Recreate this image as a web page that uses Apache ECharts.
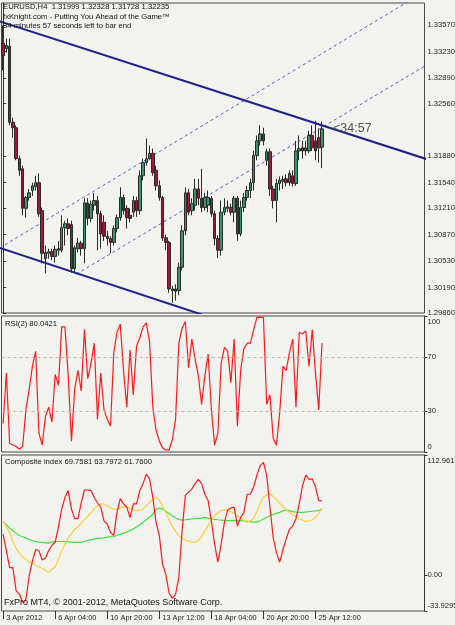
<!DOCTYPE html>
<html><head><meta charset="utf-8">
<script src="https://cdn.jsdelivr.net/npm/echarts@6/dist/echarts.min.js"></script>
<style>html,body{margin:0;padding:0;background:#f2f3ef;}#c{width:455px;height:625px;}</style>
</head><body><div id="c"></div>
<script>
// ---- data ----
const opens  = [1.3334,1.3327,1.3330,1.3232,1.3225,1.3185,1.3172,1.3121,1.3135,1.3144,1.3149,1.3154,1.3118,1.3056,1.3063,1.3065,1.3059,1.3067,1.3067,1.3096,1.3101,1.3100,1.3043,1.3069,1.3076,1.3069,1.3128,1.3108,1.3125,1.3131,1.3114,1.3103,1.3085,1.3082,1.3077,1.3095,1.3109,1.3135,1.3121,1.3112,1.3116,1.3131,1.3118,1.3163,1.3180,1.3185,1.3192,1.3170,1.3150,1.3135,1.3083,1.3077,1.3015,1.3017,1.3015,1.3045,1.3092,1.3141,1.3118,1.3125,1.3146,1.3134,1.3122,1.3125,1.3134,1.3114,1.3082,1.3067,1.3116,1.3121,1.3122,1.3116,1.3134,1.3088,1.3122,1.3135,1.3144,1.3154,1.3189,1.3208,1.3217,1.3183,1.3194,1.3146,1.3131,1.3153,1.3156,1.3159,1.3154,1.3163,1.3153,1.3195,1.3199,1.3195,1.3195,1.3215,1.3208,1.3212,1.31999];
const closes = [1.3318,1.3331,1.3232,1.3225,1.3185,1.3170,1.3121,1.3135,1.3141,1.3150,1.3154,1.3114,1.3063,1.3064,1.3065,1.3059,1.3068,1.3069,1.3096,1.3101,1.3095,1.3043,1.3070,1.3076,1.3069,1.3128,1.3108,1.3126,1.3131,1.3114,1.3088,1.3085,1.3082,1.3077,1.3095,1.3109,1.3135,1.3118,1.3109,1.3108,1.3131,1.3118,1.3163,1.3180,1.3185,1.3192,1.3167,1.3150,1.3135,1.3083,1.3077,1.3017,1.3017,1.3014,1.3045,1.3092,1.3141,1.3116,1.3127,1.3146,1.3134,1.3122,1.3135,1.3135,1.3114,1.3082,1.3067,1.3116,1.3122,1.3123,1.3116,1.3134,1.3088,1.3122,1.3135,1.3144,1.3154,1.3189,1.3208,1.3217,1.3208,1.3194,1.3146,1.3131,1.3153,1.3157,1.3158,1.3154,1.3166,1.3153,1.3195,1.3198,1.3195,1.3199,1.3215,1.3199,1.3195,1.3199,1.32235];
const highs  = [1.3357,1.3340,1.3340,1.3238,1.3228,1.3189,1.3176,1.3137,1.3146,1.3154,1.3163,1.3166,1.3122,1.3073,1.3069,1.3069,1.3073,1.3079,1.3112,1.3105,1.3108,1.3105,1.3073,1.3083,1.3079,1.3134,1.3134,1.3131,1.3141,1.3137,1.3118,1.3112,1.3092,1.3085,1.3099,1.3113,1.3148,1.3139,1.3125,1.3121,1.3137,1.3136,1.3170,1.3185,1.3211,1.3202,1.3198,1.3176,1.3157,1.3137,1.3087,1.3079,1.3021,1.3023,1.3051,1.3099,1.3148,1.3146,1.3134,1.3159,1.3159,1.3172,1.3141,1.3144,1.3137,1.3118,1.3086,1.3131,1.3134,1.3131,1.3127,1.3137,1.3137,1.3131,1.3141,1.3150,1.3159,1.3195,1.3215,1.3228,1.3225,1.3198,1.3198,1.3150,1.3159,1.3162,1.3163,1.3165,1.3170,1.3170,1.3208,1.3215,1.3208,1.3208,1.3221,1.3228,1.3234,1.3224,1.32328];
const lows   = [1.3299,1.3322,1.3228,1.3212,1.3183,1.3163,1.3112,1.3109,1.3131,1.3137,1.3144,1.3110,1.3050,1.3037,1.3056,1.3054,1.3051,1.3060,1.3064,1.3073,1.3086,1.3038,1.3038,1.3064,1.3060,1.3050,1.3099,1.3103,1.3118,1.3067,1.3069,1.3079,1.3073,1.3063,1.3073,1.3090,1.3105,1.3113,1.3095,1.3103,1.3110,1.3110,1.3113,1.3157,1.3176,1.3183,1.3163,1.3144,1.3131,1.3079,1.3067,1.3012,1.2999,1.3002,1.3009,1.3041,1.3086,1.3112,1.3112,1.3118,1.3125,1.3116,1.3118,1.3116,1.3110,1.3073,1.3057,1.3060,1.3112,1.3116,1.3112,1.3103,1.3079,1.3085,1.3116,1.3131,1.3134,1.3144,1.3183,1.3202,1.3202,1.3176,1.3137,1.3121,1.3103,1.3144,1.3146,1.3149,1.3150,1.3149,1.3150,1.3183,1.3185,1.3189,1.3192,1.3195,1.3183,1.3180,1.31728];
const rsi = [21,58,6.4,5.2,4,2,4,31,46,63,74,14,5,26,33,22,57,49,92,92,56,8,46,60,45,90,54,65,80,24,58,31,24,19,73,88,94,60,33,75,42,78,84,92,95,81,33,16,8,3,1.5,1.5,9,24,80,91,96,62,83,68,56,35,56,72,31,5,14,65,77,74,51,83,19,60,76,80,80,90,99,99,99,35,42,10,5,29,63,60,73,83,33,88,87,89,63,90,58,31,80.0421];
const compositeMain = [38.5,22.7,6.9,6.9,-15,-18,-26,-23,-1,13,24,23,14,16,23,28,31,45,62,73,79.5,62,53,53,68,80,80,79.5,73,68,64,51,48,40,37,59,72,67,64,54,67,67,79.5,86,95,90.5,73,49.5,37,10,0.6,-17,-22,-18,-2.5,41.6,75,78,81,86,90,86,76,70,51,29,12,29,49.5,61,63,64,46,54,59,76,76,83,94,103,106,94,64,35,21,12,24,34,43,46,53,67,84,94,90,90.5,83,70,69.7581];
const compositeFast = [51,45,40,31.5,25,20.5,17,14.5,12.3,10.7,9.1,7.6,6.3,4.4,2.5,5.4,7.6,14.8,22.7,29,34.7,39,43,45.4,48.6,52.4,55.5,58.7,62,65.3,66.9,66.9,65,63.4,61.8,61.8,63,64,64.4,62.8,60.6,60.9,61.2,62,65,68.5,71.3,73.2,70.7,64.4,58.7,51.7,46,41,37,34.4,32.8,31.9,30.9,30.6,32.5,36,41.6,46.7,51.7,55.5,58.7,60.6,61.2,60.9,59.6,58,55.5,53.6,51,49.5,51,53.3,60,67.5,73.2,75.4,76.3,73.8,70.7,67.5,64.4,61.2,59,56.8,54.9,53,51.7,50.5,50.8,52,54.3,58,63.7972];
const compositeSlow = [50.2,47.3,44.2,41.6,39.4,37.2,36,34.7,33.4,32.2,31.5,30.9,30.6,30.3,30,30.9,31.5,31.5,31.5,31.5,31.2,30.9,30.6,30.6,30.9,31.5,32.5,33.1,33.8,34.4,34.7,35,35.6,36,36,37.2,38.2,39.4,40.4,42,43.2,45.1,47.3,49.5,52,54.6,57.1,61.8,63,62,60,57.7,55.5,53.6,52.4,51.7,52,52.4,52.7,53,53.3,53.6,54.3,53.6,53,52.4,52,51.7,51.4,51.1,51.1,51.1,51.1,51.1,50.8,50.5,50.2,49.8,49.8,51.1,52.7,54.3,55.8,57.1,58,59,60.3,61.2,60.6,59.6,59.3,59,59,59.3,59.6,60,60.3,60.9,61.76];

const priceTicks = [1.29860,1.30190,1.30530,1.30870,1.31210,1.31540,1.31880,1.32560,1.32890,1.33230,1.33570];
const priceMin = 1.29860, priceMax = 1.33858;
const rsiTicks = [0,30,70,100];
const rsiLevels = [70,30];
const compTicks = [-33.9295,0,112.9613];
const compTickLabels = ['-33.9295','0.00','112.9613'];
const timeTickBars = [0,16,32,48,64,80,96];
const timeTickLabels = ['3 Apr 2012','6 Apr 04:00','10 Apr 20:00','13 Apr 12:00','18 Apr 04:00','20 Apr 20:00','25 Apr 12:00'];
const totalSlots = 130;
const lastPrice = 1.32235;
const lastBar = 98;
// trend lines: [barIndex, price] endpoints
const upperTrend = [[-1,1.33620],[130,1.31847]];
const lowerTrend = [[-1,1.30699],[130,1.28886]];
const channelA   = [[-1,1.30701],[130,1.34016]];
const channelB   = [[22.5,1.30362],[130,1.33055]];

const titleLines = ['EURUSD,H4  1.31999 1.32328 1.31728 1.32235','fxKnight.com - Putting You Ahead of the Game\u2122','34 minutes 57 seconds left to bar end'];

// ---- chart ----
const FONT = "'Liberation Sans',Arial,sans-serif";
const slots = Array.from({length: totalSlots}, (_, i) => String(i));
const candleData = opens.map((o, i) => [o, closes[i], lows[i], highs[i]]);
const chart = echarts.init(document.getElementById('c'), null, {renderer: 'canvas'});
const GL = 1.5, GR = 30.5;
const grids = [
  {left: GL, right: GR, top: 3, height: 310},
  {left: GL, right: GR, top: 316, height: 136},
  {left: GL, right: GR, top: 455, height: 156}
].map(g => Object.assign({show: true, borderColor: '#4a4a4a', borderWidth: 1, backgroundColor: 'transparent',
  containLabel: false, outerBoundsMode: 'none'}, g));

const AX = 7.6;
const axisLbl = {fontFamily: FONT, fontSize: AX, color: '#222'};
const hiddenCat = gi => ({type: 'category', gridIndex: gi, data: slots, boundaryGap: true, show: false});
const trendSeries = (pts, solid) => ({
  type: 'line', xAxisIndex: 3, yAxisIndex: 0, data: pts, symbol: 'none', silent: true,
  lineStyle: solid ? {color: '#20208a', width: 2} : {color: '#5a5ab8', width: 1, type: [3, 3]},
  z: solid ? 4 : 3
});
const txt = (size) => ({fontFamily: FONT, fontSize: size, fontWeight: 'normal', color: '#111'});

const titles = titleLines.map((t, i) => ({text: t, left: 3, top: 3 + i * 9.5, padding: 0, textStyle: txt(7.7)}));
titles.push({text: 'RSI(2) ' + rsi[rsi.length - 1].toFixed(4), left: 5, top: 320, padding: 0, textStyle: txt(7.7)});
titles.push({text: 'Composite index ' + compositeMain[compositeMain.length - 1].toFixed(4) + ' ' +
  compositeFast[compositeFast.length - 1].toFixed(4) + ' ' + compositeSlow[compositeSlow.length - 1].toFixed(4),
  left: 5, top: 458, padding: 0, textStyle: txt(7.7)});
titles.push({text: 'FxPro MT4, \u00a9 2001-2012, MetaQuotes Software Corp.', left: 4, top: 598, padding: 0, textStyle: txt(9)});

const edgeRich = {
  up: {fontFamily: FONT, fontSize: AX, color: '#222', padding: [11, 0, 0, 0]},
  dn: {fontFamily: FONT, fontSize: AX, color: '#222', padding: [0, 0, 11, 0]}
};

chart.setOption({
  animation: false,
  backgroundColor: '#f2f3ef',
  title: titles,
  grid: grids,
  xAxis: [
    hiddenCat(0), hiddenCat(1),
    {type: 'category', gridIndex: 2, data: slots, boundaryGap: true, position: 'bottom',
      axisLine: {show: false, onZero: false},
      axisTick: {show: true, alignWithLabel: true, length: 8, lineStyle: {color: '#333'},
        interval: (idx) => timeTickBars.includes(idx)},
      axisLabel: Object.assign({}, axisLbl, {fontSize: 7.4, align: 'left', margin: 3, padding: [0, 0, 0, 3],
        interval: (idx) => timeTickBars.includes(idx),
        formatter: (v) => { const k = timeTickBars.indexOf(Number(v)); return k >= 0 ? timeTickLabels[k] : ''; }})},
    {type: 'value', gridIndex: 0, min: -0.5, max: totalSlots - 0.5, show: false}
  ],
  yAxis: [
    {type: 'value', gridIndex: 0, position: 'right', min: priceMin, max: priceMax, scale: true,
      splitLine: {show: false}, axisLine: {show: true, lineStyle: {color: '#333'}},
      axisTick: {show: true, length: 3, customValues: priceTicks, lineStyle: {color: '#333'}},
      axisLabel: Object.assign({}, axisLbl, {margin: 3, customValues: priceTicks, formatter: v => v.toFixed(5)})},
    {type: 'value', gridIndex: 1, position: 'right', min: 0, max: 100,
      splitLine: {show: false}, axisLine: {show: true, lineStyle: {color: '#333'}},
      axisTick: {show: true, length: 3, customValues: rsiTicks, lineStyle: {color: '#333'}},
      axisLabel: Object.assign({}, axisLbl, {margin: 3, customValues: rsiTicks, rich: edgeRich,
        formatter: v => v === 100 ? '{up|100}' : (v === 0 ? '{dn|0}' : String(v))})},
    {type: 'value', gridIndex: 2, position: 'right', min: compTicks[0], max: compTicks[2],
      splitLine: {show: false}, axisLine: {show: true, lineStyle: {color: '#333'}},
      axisTick: {show: true, length: 3, customValues: compTicks, lineStyle: {color: '#333'}},
      axisLabel: Object.assign({}, axisLbl, {margin: 3, customValues: compTicks, rich: edgeRich,
        formatter: v => { const k = compTicks.indexOf(v); const s = compTickLabels[k];
          return k === 2 ? '{up|' + s + '}' : (k === 0 ? '{dn|' + s + '}' : s); }})}
  ],
  series: [
    {type: 'candlestick', xAxisIndex: 0, yAxisIndex: 0, data: candleData, barWidth: 3,
      itemStyle: {color: '#3b9468', color0: '#a8143c', borderColor: '#2a2a2a', borderColor0: '#2a2a2a', borderWidth: 1},
      z: 5,
      markLine: {silent: true, symbol: 'none', animation: false,
        lineStyle: {opacity: 0},
        label: {show: true, position: 'end', distance: 1, formatter: p => p.value.toFixed(5),
          backgroundColor: '#000', color: '#fff', fontFamily: FONT, fontSize: AX, padding: [1, 2, 1, 2]},
        data: [{yAxis: lastPrice}]},
      markPoint: {silent: true, symbol: 'circle', symbolSize: 0, animation: false,
        label: {show: true, position: 'right', distance: 11, formatter: '<34:57',
          fontFamily: FONT, fontSize: 12.5, color: '#555'},
        data: [{coord: [String(lastBar), lastPrice]}]}},
    trendSeries(channelA, false),
    trendSeries(channelB, false),
    trendSeries(upperTrend, true),
    trendSeries(lowerTrend, true),
    {type: 'line', xAxisIndex: 1, yAxisIndex: 1, data: rsi, symbol: 'none',
      lineStyle: {color: '#ff1a1a', width: 1.2},
      markLine: {silent: true, symbol: 'none', animation: false, label: {show: false},
        lineStyle: {color: '#c9b3b3', width: 1, type: [3, 3]},
        data: rsiLevels.map(v => ({yAxis: v}))}},
    {type: 'line', xAxisIndex: 2, yAxisIndex: 2, data: compositeSlow, symbol: 'none',
      lineStyle: {color: '#3ee03e', width: 1.2}},
    {type: 'line', xAxisIndex: 2, yAxisIndex: 2, data: compositeFast, symbol: 'none',
      lineStyle: {color: '#ffcc3a', width: 1.2}},
    {type: 'line', xAxisIndex: 2, yAxisIndex: 2, data: compositeMain, symbol: 'none',
      lineStyle: {color: '#ff1a1a', width: 1.2}}
  ]
});
</script></body></html>
